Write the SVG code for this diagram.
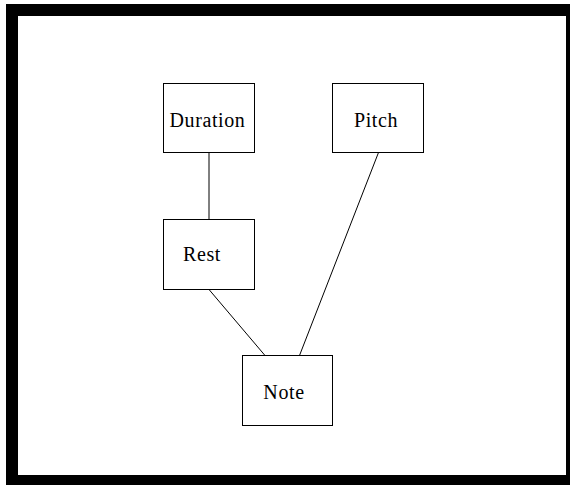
<svg xmlns="http://www.w3.org/2000/svg" width="570" height="485" viewBox="0 0 570 485">
  <style>
    .box { fill: #ffffff; stroke: #000000; stroke-width: 1; }
    .label { font-family: "Liberation Serif", "Times New Roman", serif; font-size: 20px; letter-spacing: 0.6px; fill: #000000; text-anchor: middle; }
    .edge { stroke: #000000; stroke-width: 1; fill: none; }
  </style>
  <rect x="0" y="0" width="570" height="485" fill="#ffffff"/>
  <!-- heavy frame -->
  <rect x="6" y="4" width="564" height="481" fill="#000000"/>
  <rect x="18" y="16" width="548" height="459" fill="#ffffff"/>

  <g id="connectors">
    <line class="edge" x1="209" y1="152.5" x2="209" y2="219.5"/>
    <line class="edge" x1="209" y1="289.5" x2="265" y2="355.5"/>
    <line class="edge" x1="378.5" y1="152.5" x2="299.5" y2="355.5"/>
  </g>

  <g id="duration">
    <rect class="box" x="163.5" y="83.5" width="91" height="69"/>
    <text class="label" x="207.5" y="126.5">Duration</text>
  </g>
  <g id="pitch">
    <rect class="box" x="332.5" y="83.5" width="91" height="69"/>
    <text class="label" x="376" y="126.5">Pitch</text>
  </g>
  <g id="rest">
    <rect class="box" x="163.5" y="219.5" width="91" height="70"/>
    <text class="label" x="202" y="261">Rest</text>
  </g>
  <g id="note">
    <rect class="box" x="242.5" y="355.5" width="90" height="70"/>
    <text class="label" x="284" y="398.5">Note</text>
  </g>
</svg>
